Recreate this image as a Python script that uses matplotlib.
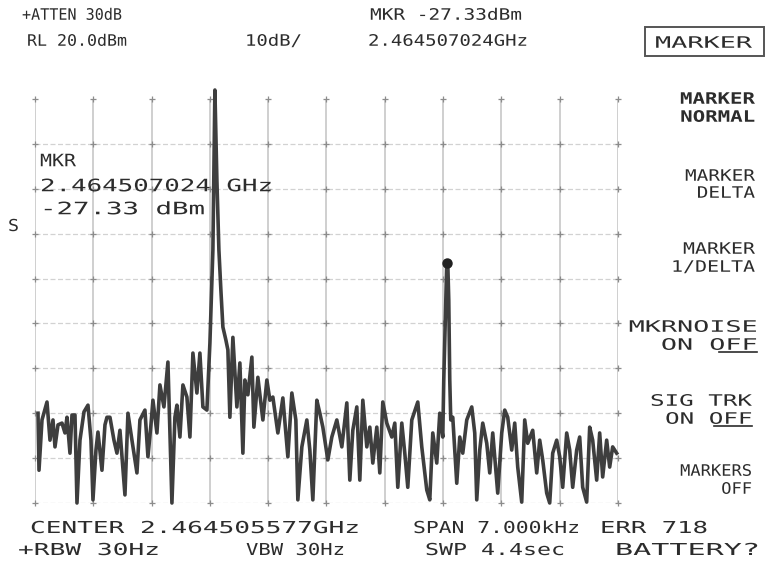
import numpy as np
import matplotlib
matplotlib.use("Agg")
import matplotlib.pyplot as plt
from matplotlib.patheffects import AbstractPathEffect
from matplotlib.transforms import Affine2D
from matplotlib.lines import Line2D
from matplotlib.patches import Rectangle

center_ghz = 2.464505577
span_hz = 7000
ref_top_dbm = 9.2
db_per_div = 10
n_hdiv = 10
n_vdiv = 9

freq_hz = [
    -3464, -3452, -3416, -3356, -3320, -3284, -3260, -3224, -3176, -3140,
    -3116, -3080, -3056, -3020, -2996, -2960, -2912, -2864, -2828, -2804,
    -2768, -2744, -2696, -2660, -2636, -2600, -2552, -2516, -2480, -2420,
    -2384, -2336, -2276, -2240, -2180, -2144, -2108, -2084, -2036, -2000,
    -1952, -1904, -1856, -1820, -1796, -1760, -1724, -1676, -1640, -1604,
    -1556, -1520, -1484, -1436, -1400, -1364, -1340, -1316, -1292, -1268,
    -1244, -1208, -1184, -1160, -1124, -1076, -1040, -1004, -980, -944,
    -896, -872, -824, -764, -716, -680, -644, -584, -524, -464,
    -416, -368, -344, -296, -236, -200, -164, -116, -80, -44,
    16, 64, 124, 184, 244, 280, 316, 364, 400, 436,
    484, 520, 556, 604, 640, 676, 724, 784, 820, 856,
    904, 940, 976, 1024, 1096, 1144, 1204, 1240, 1276, 1324,
    1360, 1396, 1408, 1432, 1444, 1456, 1468, 1480, 1492, 1516,
    1564, 1600, 1636, 1684, 1744, 1780, 1804, 1840, 1876, 1924,
    1960, 1996, 2056, 2104, 2140, 2176, 2224, 2260, 2296, 2344,
    2380, 2416, 2476, 2524, 2560, 2596, 2644, 2680, 2716, 2764,
    2800, 2836, 2884, 2920, 2956, 3004, 3040, 3076, 3124, 3160,
    3196, 3244, 3280, 3316, 3364, 3400, 3436, 3484]

level_dbm = [
    -60.8, -73.5, -62.3, -58.3, -66.8, -62.3, -68.3, -63.4, -63.0, -65.2,
    -61.7, -69.7, -61.2, -61.2, -80.8, -66.8, -60.5, -59.0, -66.8, -80.1,
    -69.0, -65.0, -73.5, -63.4, -61.7, -61.7, -66.8, -69.7, -64.6, -79.0,
    -60.8, -66.8, -74.1, -62.3, -60.1, -70.5, -63.4, -57.9, -65.2, -54.5,
    -59.4, -49.4, -80.8, -61.7, -59.0, -66.1, -54.5, -57.2, -66.1, -47.4,
    -56.3, -47.4, -59.4, -60.1, -45.2, -24.4, 11.2, -8.9, -24.4, -33.4,
    -41.6, -44.5, -46.7, -61.7, -43.9, -59.4, -49.6, -69.7, -53.4, -56.7,
    -48.3, -63.9, -52.8, -62.3, -53.4, -57.9, -57.2, -65.2, -57.4, -70.5,
    -56.3, -62.3, -80.1, -68.3, -62.3, -69.0, -80.1, -57.9, -60.8, -63.9,
    -71.2, -66.1, -62.3, -68.3, -58.5, -75.7, -64.6, -59.4, -75.7, -57.9,
    -68.3, -63.9, -71.9, -63.9, -74.1, -58.3, -63.0, -66.1, -63.0, -77.3,
    -63.0, -69.7, -77.3, -62.3, -58.3, -68.3, -77.9, -80.1, -65.2, -71.9,
    -60.8, -66.1, -53.4, -35.6, -27.3, -27.3, -35.6, -53.4, -62.3, -61.7,
    -76.4, -66.1, -69.7, -62.3, -59.4, -65.2, -80.1, -69.0, -63.0, -67.5,
    -74.1, -65.2, -78.6, -65.2, -60.1, -61.7, -69.0, -63.0, -72.8, -80.6,
    -62.3, -67.5, -64.6, -74.1, -66.8, -71.2, -78.6, -80.8, -69.7, -66.8,
    -70.5, -77.3, -65.2, -69.0, -77.3, -69.0, -66.1, -77.3, -80.6, -63.9,
    -66.8, -75.7, -65.2, -75.0, -66.8, -72.8, -68.3, -69.7]

marker_freq_hz = 1447
marker_level_dbm = -27.33

header_left = ["+ATTEN 30dB", "RL 20.0dBm"]
header_scale = "10dB/"
header_marker = ["MKR -27.33dBm", "2.464507024GHz"]
readout = ["MKR", "2.464507024 GHz", "-27.33 dBm"]
softkeys = [("MARKER", "NORMAL"), ("MARKER", "DELTA"), ("MARKER", "1/DELTA"),
            ("MKRNOISE", "ON OFF"), ("SIG TRK", "ON OFF"), ("MARKERS", "OFF")]
footer1 = ["CENTER 2.464505577GHz", "SPAN 7.000kHz", "ERR 718"]
footer2 = ["+RBW 30Hz", "VBW 30Hz", "SWP 4.4sec", "BATTERY?"]

# ---------------- figure ----------------
W, H = 765, 567
fig = plt.figure(figsize=(W / 100, H / 100), dpi=100)
fig.patch.set_facecolor("white")

ax = fig.add_axes([35 / W, 1 - 503 / H, 583 / W, 404 / H])
ax.set_xlim(-span_hz / 2, span_hz / 2)
ax.set_ylim(ref_top_dbm - n_vdiv * db_per_div, ref_top_dbm)
ax.axis("off")

xs = np.linspace(-span_hz / 2, span_hz / 2, n_hdiv + 1)
ys = ref_top_dbm - db_per_div * np.arange(n_vdiv + 1)
for x in xs:
    ax.axvline(x, color="#c2c2c2", lw=1.1, zorder=1)
for y in ys[1:]:
    ax.axhline(y, color="#d2d2d2", lw=0.9, ls=(0, (4, 2)), zorder=1)
gx, gy = np.meshgrid(xs, ys)
ax.plot(gx.ravel(), gy.ravel(), "+", ms=4.5, mew=0.9, color="#8c8c8c",
        zorder=2, clip_on=False)

ax.plot(freq_hz, level_dbm, color="#3e3e3e", lw=2.6, zorder=3,
        clip_on=False, solid_joinstyle="round")
ax.plot([marker_freq_hz], [marker_level_dbm], "o", ms=6.5, color="#202020",
        zorder=4, clip_on=False)


# ---------------- text ----------------
class Stretch(AbstractPathEffect):
    def __init__(self, sx, anchor="left"):
        super().__init__()
        self.sx = sx
        self.anchor = anchor

    def draw_path(self, renderer, gc, tpath, affine, rgbFace=None):
        if self.anchor == "right":
            x0 = tpath.get_extents(affine).x1
        else:
            x0 = affine.transform_point((0, 0))[0]
        t = affine + Affine2D().translate(-x0, 0).scale(self.sx, 1).translate(x0, 0)
        renderer.draw_path(gc, tpath, t, rgbFace)


def label(s, xl, xr, yc, cap, ha="left", weight="normal", color="#2c2c2c"):
    em = cap / 0.729
    fs = em * 72 / 100
    pitch = (xr - xl) / len(s)
    sx = pitch / (0.602 * em)
    x = xl if ha == "left" else xr
    fig.text(x / W, 1 - (yc + cap / 2) / H, s, fontsize=fs,
             family="DejaVu Sans Mono", ha=ha, va="baseline",
             fontweight=weight, color=color,
             path_effects=[Stretch(sx, ha)])


label(header_left[0], 22, 122, 14, 11.5)
label(header_left[1], 27, 127, 40, 11.5)
label(header_scale, 245, 302, 40, 11.5)
label(header_marker[0], 370, 522, 14, 11.5)
label(header_marker[1], 368, 528, 40, 11.5)

fig.add_artist(Rectangle((645 / W, 1 - 56 / H), 119 / W, 29 / H,
                         transform=fig.transFigure, fill=False,
                         ec="#555555", lw=1.4))
label("MARKER", 655, 752, 42, 11.5)

sk_pos = [(98, 116, 680, 755), (175, 192, 685, 755), (248, 266, 683, 755),
          (326, 344, 628, 757), (400, 418, 650, 752), (470, 488, 680, 752)]
for i, ((l1, l2), (y1, y2, xl, xr)) in enumerate(zip(softkeys, sk_pos)):
    w = "bold" if i == 0 else "normal"
    pitch = (xr - xl) / len(l1)
    label(l1, xl, xr, y1, 11.5, ha="right", weight=w)
    label(l2, xr - pitch * len(l2), xr, y2, 11.5, ha="right", weight=w)
for (x0, x1, yy) in [(719, 757, 352), (714, 752, 426)]:
    fig.add_artist(Line2D([x0 / W, x1 / W], [1 - yy / H, 1 - yy / H],
                          transform=fig.transFigure, color="#2c2c2c", lw=1.2))

label(readout[0], 40, 76, 160, 12.5)
label(readout[1], 40, 273, 185, 12.5)
label(readout[2], 40, 205, 208, 12.5)
label("S", 8, 19, 225, 12)

label(footer1[0], 30, 360, 527, 12)
label(footer1[1], 413, 580, 527, 12)
label(footer1[2], 600, 708, 527, 12)
label(footer2[0], 18, 160, 549, 12)
label(footer2[1], 246, 345, 549, 12)
label(footer2[2], 425, 565, 549, 12)
label(footer2[3], 615, 760, 549, 12)

fig.savefig("out.png", dpi=100, facecolor="white")
